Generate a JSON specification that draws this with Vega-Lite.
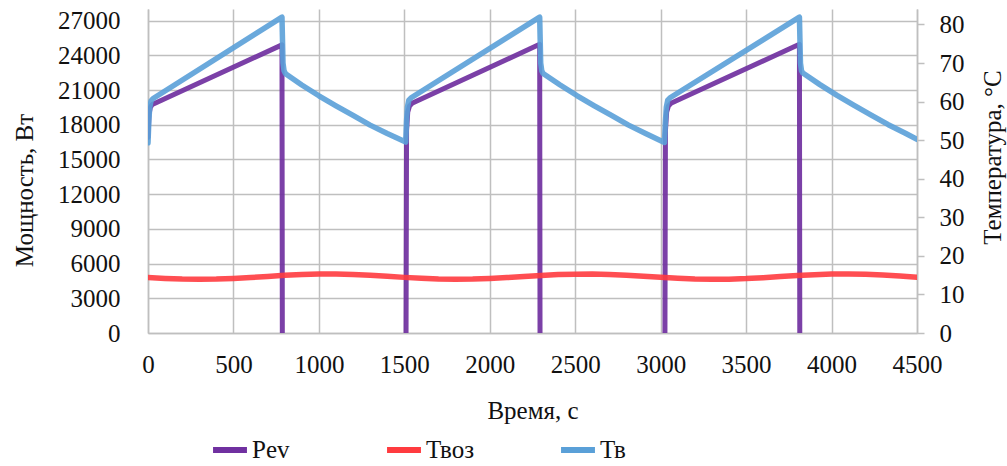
{
  "$schema": "https://vega.github.io/schema/vega-lite/v6.json",
  "width": 769,
  "height": 324,
  "autosize": {"type": "none"},
  "padding": {"left": 148, "top": 9, "right": 90, "bottom": 133},
  "background": "white",
  "config": {
    "view": {"stroke": null},
    "font": "Liberation Serif",
    "axis": {
      "labelFont": "Liberation Serif",
      "titleFont": "Liberation Serif",
      "labelFontSize": 25,
      "titleFontSize": 25,
      "titleFontWeight": "normal",
      "labelColor": "#111111",
      "titleColor": "#111111",
      "domainColor": "#bfbfbf",
      "domainWidth": 1.5,
      "gridColor": "#bfbfbf",
      "gridWidth": 1.5,
      "gridOpacity": 1,
      "tickColor": "#bfbfbf",
      "tickWidth": 1.5
    },
    "legend": {
      "labelFont": "Liberation Serif",
      "labelFontSize": 25,
      "labelColor": "#111111"
    }
  },
  "data": {
    "values": [
      {"t": 0, "s": "Pev", "v": 16900, "g": "p1"},
      {"t": 6, "s": "Pev", "v": 18900, "g": "p1"},
      {"t": 14, "s": "Pev", "v": 19500, "g": "p1"},
      {"t": 25, "s": "Pev", "v": 19750, "g": "p1"},
      {"t": 784, "s": "Pev", "v": 24900, "g": "p1"},
      {"t": 786, "s": "Pev", "v": 0, "g": "p1"},
      {"t": 1510, "s": "Pev", "v": 0, "g": "p2"},
      {"t": 1513, "s": "Pev", "v": 17500, "g": "p2"},
      {"t": 1520, "s": "Pev", "v": 19100, "g": "p2"},
      {"t": 1530, "s": "Pev", "v": 19600, "g": "p2"},
      {"t": 1545, "s": "Pev", "v": 19850, "g": "p2"},
      {"t": 2292, "s": "Pev", "v": 24950, "g": "p2"},
      {"t": 2294, "s": "Pev", "v": 0, "g": "p2"},
      {"t": 3025, "s": "Pev", "v": 0, "g": "p3"},
      {"t": 3028, "s": "Pev", "v": 17500, "g": "p3"},
      {"t": 3035, "s": "Pev", "v": 19100, "g": "p3"},
      {"t": 3045, "s": "Pev", "v": 19600, "g": "p3"},
      {"t": 3060, "s": "Pev", "v": 19850, "g": "p3"},
      {"t": 3812, "s": "Pev", "v": 24950, "g": "p3"},
      {"t": 3814, "s": "Pev", "v": 0, "g": "p3"},

      {"t": 0, "s": "Твоз", "v": 14.39, "g": "r"},
      {"t": 100, "s": "Твоз", "v": 14.15, "g": "r"},
      {"t": 200, "s": "Твоз", "v": 13.98, "g": "r"},
      {"t": 300, "s": "Твоз", "v": 13.92, "g": "r"},
      {"t": 400, "s": "Твоз", "v": 13.98, "g": "r"},
      {"t": 500, "s": "Твоз", "v": 14.15, "g": "r"},
      {"t": 600, "s": "Твоз", "v": 14.39, "g": "r"},
      {"t": 700, "s": "Твоз", "v": 14.67, "g": "r"},
      {"t": 800, "s": "Твоз", "v": 14.95, "g": "r"},
      {"t": 900, "s": "Твоз", "v": 15.16, "g": "r"},
      {"t": 1000, "s": "Твоз", "v": 15.28, "g": "r"},
      {"t": 1100, "s": "Твоз", "v": 15.29, "g": "r"},
      {"t": 1200, "s": "Твоз", "v": 15.18, "g": "r"},
      {"t": 1300, "s": "Твоз", "v": 14.97, "g": "r"},
      {"t": 1400, "s": "Твоз", "v": 14.70, "g": "r"},
      {"t": 1500, "s": "Твоз", "v": 14.42, "g": "r"},
      {"t": 1600, "s": "Твоз", "v": 14.17, "g": "r"},
      {"t": 1700, "s": "Твоз", "v": 13.99, "g": "r"},
      {"t": 1800, "s": "Твоз", "v": 13.92, "g": "r"},
      {"t": 1900, "s": "Твоз", "v": 13.97, "g": "r"},
      {"t": 2000, "s": "Твоз", "v": 14.12, "g": "r"},
      {"t": 2100, "s": "Твоз", "v": 14.36, "g": "r"},
      {"t": 2200, "s": "Твоз", "v": 14.65, "g": "r"},
      {"t": 2300, "s": "Твоз", "v": 14.92, "g": "r"},
      {"t": 2400, "s": "Твоз", "v": 15.14, "g": "r"},
      {"t": 2500, "s": "Твоз", "v": 15.26, "g": "r"},
      {"t": 2600, "s": "Твоз", "v": 15.29, "g": "r"},
      {"t": 2700, "s": "Твоз", "v": 15.19, "g": "r"},
      {"t": 2800, "s": "Твоз", "v": 15.00, "g": "r"},
      {"t": 2900, "s": "Твоз", "v": 14.73, "g": "r"},
      {"t": 3000, "s": "Твоз", "v": 14.45, "g": "r"},
      {"t": 3100, "s": "Твоз", "v": 14.19, "g": "r"},
      {"t": 3200, "s": "Твоз", "v": 14.00, "g": "r"},
      {"t": 3300, "s": "Твоз", "v": 13.92, "g": "r"},
      {"t": 3400, "s": "Твоз", "v": 13.96, "g": "r"},
      {"t": 3500, "s": "Твоз", "v": 14.10, "g": "r"},
      {"t": 3600, "s": "Твоз", "v": 14.34, "g": "r"},
      {"t": 3700, "s": "Твоз", "v": 14.62, "g": "r"},
      {"t": 3800, "s": "Твоз", "v": 14.89, "g": "r"},
      {"t": 3900, "s": "Твоз", "v": 15.13, "g": "r"},
      {"t": 4000, "s": "Твоз", "v": 15.27, "g": "r"},
      {"t": 4100, "s": "Твоз", "v": 15.30, "g": "r"},
      {"t": 4200, "s": "Твоз", "v": 15.21, "g": "r"},
      {"t": 4300, "s": "Твоз", "v": 15.02, "g": "r"},
      {"t": 4400, "s": "Твоз", "v": 14.76, "g": "r"},
      {"t": 4500, "s": "Твоз", "v": 14.47, "g": "r"},

      {"t": 0, "s": "Тв", "v": 49.3, "g": "b"},
      {"t": 5, "s": "Тв", "v": 55.0, "g": "b"},
      {"t": 10, "s": "Тв", "v": 58.5, "g": "b"},
      {"t": 18, "s": "Тв", "v": 60.2, "g": "b"},
      {"t": 30, "s": "Тв", "v": 60.8, "g": "b"},
      {"t": 784, "s": "Тв", "v": 81.9, "g": "b"},
      {"t": 787, "s": "Тв", "v": 76.0, "g": "b"},
      {"t": 790, "s": "Тв", "v": 70.0, "g": "b"},
      {"t": 796, "s": "Тв", "v": 68.0, "g": "b"},
      {"t": 805, "s": "Тв", "v": 67.2, "g": "b"},
      {"t": 900, "s": "Тв", "v": 64.3, "g": "b"},
      {"t": 1000, "s": "Тв", "v": 61.5, "g": "b"},
      {"t": 1100, "s": "Тв", "v": 58.9, "g": "b"},
      {"t": 1200, "s": "Тв", "v": 56.4, "g": "b"},
      {"t": 1300, "s": "Тв", "v": 53.9, "g": "b"},
      {"t": 1400, "s": "Тв", "v": 51.7, "g": "b"},
      {"t": 1508, "s": "Тв", "v": 49.5, "g": "b"},
      {"t": 1513, "s": "Тв", "v": 55.0, "g": "b"},
      {"t": 1518, "s": "Тв", "v": 58.5, "g": "b"},
      {"t": 1526, "s": "Тв", "v": 60.3, "g": "b"},
      {"t": 1540, "s": "Тв", "v": 61.0, "g": "b"},
      {"t": 2292, "s": "Тв", "v": 81.9, "g": "b"},
      {"t": 2295, "s": "Тв", "v": 76.0, "g": "b"},
      {"t": 2298, "s": "Тв", "v": 70.0, "g": "b"},
      {"t": 2304, "s": "Тв", "v": 68.0, "g": "b"},
      {"t": 2312, "s": "Тв", "v": 67.3, "g": "b"},
      {"t": 2412, "s": "Тв", "v": 64.3, "g": "b"},
      {"t": 2512, "s": "Тв", "v": 61.5, "g": "b"},
      {"t": 2612, "s": "Тв", "v": 58.9, "g": "b"},
      {"t": 2712, "s": "Тв", "v": 56.4, "g": "b"},
      {"t": 2812, "s": "Тв", "v": 53.9, "g": "b"},
      {"t": 2912, "s": "Тв", "v": 51.7, "g": "b"},
      {"t": 3022, "s": "Тв", "v": 49.4, "g": "b"},
      {"t": 3028, "s": "Тв", "v": 55.0, "g": "b"},
      {"t": 3033, "s": "Тв", "v": 58.5, "g": "b"},
      {"t": 3041, "s": "Тв", "v": 60.3, "g": "b"},
      {"t": 3055, "s": "Тв", "v": 61.0, "g": "b"},
      {"t": 3812, "s": "Тв", "v": 81.9, "g": "b"},
      {"t": 3815, "s": "Тв", "v": 76.0, "g": "b"},
      {"t": 3818, "s": "Тв", "v": 70.0, "g": "b"},
      {"t": 3824, "s": "Тв", "v": 68.0, "g": "b"},
      {"t": 3832, "s": "Тв", "v": 67.4, "g": "b"},
      {"t": 3932, "s": "Тв", "v": 64.4, "g": "b"},
      {"t": 4032, "s": "Тв", "v": 61.6, "g": "b"},
      {"t": 4132, "s": "Тв", "v": 59.0, "g": "b"},
      {"t": 4232, "s": "Тв", "v": 56.5, "g": "b"},
      {"t": 4332, "s": "Тв", "v": 54.0, "g": "b"},
      {"t": 4432, "s": "Тв", "v": 51.8, "g": "b"},
      {"t": 4500, "s": "Тв", "v": 50.2, "g": "b"}
    ]
  },
  "encoding": {
    "x": {
      "field": "t",
      "type": "quantitative",
      "scale": {"domain": [0, 4500], "nice": false, "zero": false},
      "axis": {
        "title": "Время, с",
        "values": [0, 500, 1000, 1500, 2000, 2500, 3000, 3500, 4000, 4500],
        "format": "d",
        "grid": true,
        "ticks": false,
        "tickSize": 0,
        "labelPadding": 19,
        "titlePadding": 21,
        "labelFlush": false,
        "labelOverlap": false
      }
    }
  },
  "layer": [
    {
      "transform": [{"filter": "datum.s === 'Pev'"}],
      "mark": {"type": "line", "strokeWidth": 5, "strokeJoin": "round", "strokeCap": "round", "opacity": 0.92, "clip": true},
      "encoding": {
        "y": {
          "field": "v",
          "type": "quantitative",
          "scale": {"domain": [0, 28000], "nice": false},
          "axis": {
            "orient": "left",
            "title": "Мощность, Вт",
            "values": [0, 3000, 6000, 9000, 12000, 15000, 18000, 21000, 24000, 27000],
            "format": "d",
            "grid": true,
            "ticks": false,
            "tickSize": 0,
            "labelPadding": 28,
            "titlePadding": 20,
            "titleY": 181,
            "labelFlush": false,
            "labelOverlap": false
          }
        },
        "detail": {"field": "g"},
        "color": {
          "field": "s",
          "type": "nominal",
          "scale": {"domain": ["Pev", "Твоз", "Тв"], "range": ["#7030a0", "#ff3b3f", "#5aa0d8"]},
          "legend": {
            "title": null,
            "orient": "none",
            "legendX": 62,
            "legendY": 421,
            "direction": "horizontal",
            "columns": 3,
            "gridAlign": "all",
            "columnPadding": 74,
            "symbolType": "stroke",
            "symbolSize": 1150,
            "symbolStrokeWidth": 6,
            "symbolOpacity": 1,
            "labelOffset": 2
          }
        }
      }
    },
    {
      "transform": [{"filter": "datum.s !== 'Pev'"}],
      "mark": {"type": "line", "strokeWidth": 5.5, "strokeJoin": "round", "strokeCap": "round", "opacity": 0.9, "clip": true},
      "encoding": {
        "y": {
          "field": "v",
          "type": "quantitative",
          "scale": {"domain": [0, 84], "nice": false},
          "axis": {
            "orient": "right",
            "title": "Температура, °C",
            "values": [0, 10, 20, 30, 40, 50, 60, 70, 80],
            "grid": false,
            "ticks": true,
            "tickSize": 7,
            "labelPadding": 15,
            "titlePadding": 16,
            "titleAngle": 270,
            "titleBaseline": "top",
            "titleY": 148,
            "labelFlush": false,
            "labelOverlap": false
          }
        },
        "detail": {"field": "g"},
        "color": {
          "field": "s",
          "type": "nominal",
          "scale": {"domain": ["Pev", "Твоз", "Тв"], "range": ["#7030a0", "#ff3b3f", "#5aa0d8"]},
          "legend": {
            "title": null,
            "orient": "none",
            "legendX": 62,
            "legendY": 421,
            "direction": "horizontal",
            "columns": 3,
            "gridAlign": "all",
            "columnPadding": 74,
            "symbolType": "stroke",
            "symbolSize": 1150,
            "symbolStrokeWidth": 6,
            "symbolOpacity": 1,
            "labelOffset": 2
          }
        }
      }
    }
  ],
  "resolve": {"scale": {"y": "independent"}}
}
